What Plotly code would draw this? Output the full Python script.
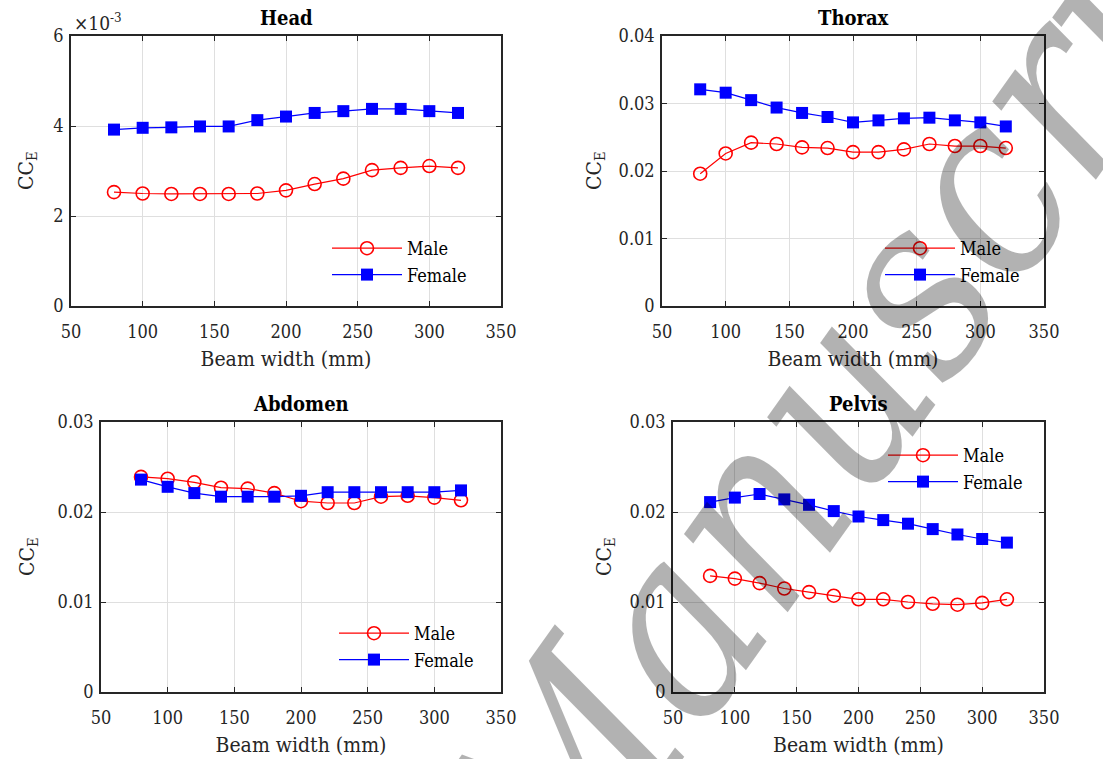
import plotly.graph_objects as go

beam_width = [80, 100, 120, 140, 160, 180, 200, 220, 240, 260, 280, 300, 320]

head_male = [0.00253, 0.00250, 0.00249, 0.00249, 0.00249, 0.00250, 0.00257, 0.00271, 0.00283, 0.00302, 0.00307, 0.00311, 0.00307]
head_female = [0.00392, 0.00396, 0.00397, 0.00399, 0.00399, 0.00413, 0.00421, 0.00429, 0.00433, 0.00438, 0.00438, 0.00433, 0.00429]

thorax_male = [0.0196, 0.0226, 0.0242, 0.0240, 0.0235, 0.0234, 0.0228, 0.0228, 0.0232, 0.0240, 0.0237, 0.0237, 0.0234]
thorax_female = [0.0321, 0.0316, 0.0305, 0.0294, 0.0286, 0.0280, 0.0272, 0.0275, 0.0278, 0.0279, 0.0275, 0.0272, 0.0266]

abdomen_male = [0.0239, 0.0237, 0.0233, 0.0227, 0.0226, 0.0221, 0.0212, 0.0210, 0.0210, 0.0217, 0.0218, 0.0216, 0.0213]
abdomen_female = [0.0236, 0.0228, 0.0221, 0.0217, 0.0217, 0.0217, 0.0218, 0.0222, 0.0222, 0.0222, 0.0222, 0.0222, 0.0224]

pelvis_male = [0.0129, 0.0126, 0.0121, 0.0115, 0.0111, 0.0107, 0.0103, 0.0103, 0.0100, 0.0098, 0.0097, 0.0099, 0.0103]
pelvis_female = [0.0211, 0.0216, 0.0220, 0.0214, 0.0208, 0.0201, 0.0195, 0.0191, 0.0187, 0.0181, 0.0175, 0.0170, 0.0166]

titles = ["Head", "Thorax", "Abdomen", "Pelvis"]
series_names = ["Male", "Female"]
x_label = "Beam width (mm)"
y_label = "CC<sub>E</sub>"

head_ticks = [0, 0.002, 0.004, 0.006]
head_ticktext = ["0", "2", "4", "6"]
thorax_ticks = [0, 0.01, 0.02, 0.03, 0.04]
ab_ticks = [0, 0.01, 0.02, 0.03]
tick_fmt = ["0", "0.01", "0.02", "0.03", "0.04"]
x_ticks = [50, 100, 150, 200, 250, 300, 350]

W, H = 1103, 759
FONT = "DejaVu Serif Condensed, DejaVu Serif"
AX = "#262626"
GRID = "#dfdfdf"

boxes = [(71, 501, 36, 306), (662, 1044, 36, 306), (101, 501, 422, 692), (673, 1044, 422, 692)]
legend_pos = [(408, 261.5), (961, 261.5), (415, 646.5), (964, 468.5)]
ytitle_x = [27, 595, 28, 605]

panels = [
    (head_male, head_female, [0, 0.006], head_ticks, head_ticktext),
    (thorax_male, thorax_female, [0, 0.04], thorax_ticks, tick_fmt[:5]),
    (abdomen_male, abdomen_female, [0, 0.03], ab_ticks, tick_fmt[:4]),
    (pelvis_male, pelvis_female, [0, 0.03], ab_ticks, tick_fmt[:4]),
]

fig = go.Figure()
layout = dict(
    width=W, height=H, margin=dict(l=0, r=0, t=0, b=0, autoexpand=False),
    paper_bgcolor="white", plot_bgcolor="white",
    font=dict(family=FONT, size=18, color=AX),
    showlegend=True,
    annotations=[],
)

ITEMW = 70
for i, (male, female, yr, tv, tt) in enumerate(panels):
    n = i + 1
    xa = "x" if n == 1 else f"x{n}"
    ya = "y" if n == 1 else f"y{n}"
    lg = "legend" if n == 1 else f"legend{n}"
    fig.add_trace(go.Scatter(
        x=beam_width, y=male, name=series_names[0], xaxis=xa, yaxis=ya, legend=lg,
        mode="lines+markers",
        line=dict(color="#ff0000", width=1.2),
        marker=dict(symbol="circle-open", size=13, color="#ff0000", line=dict(width=1.6, color="#ff0000")),
    ))
    fig.add_trace(go.Scatter(
        x=beam_width, y=female, name=series_names[1], xaxis=xa, yaxis=ya, legend=lg,
        mode="lines+markers",
        line=dict(color="#0000ff", width=1.2),
        marker=dict(symbol="square", size=12, color="#0000ff", line=dict(width=0)),
    ))
    l, r, t, b = boxes[i]
    xd = [l / W, r / W]
    yd = [1 - b / H, 1 - t / H]
    common = dict(showline=True, linecolor=AX, linewidth=1.5, mirror="ticks",
                  ticks="inside", ticklen=5, tickwidth=1.2, tickcolor=AX,
                  showgrid=True, gridcolor=GRID, gridwidth=1, zeroline=False,
                  automargin=False,
                  tickfont=dict(family=FONT, size=18, color=AX))
    layout["xaxis" if n == 1 else f"xaxis{n}"] = dict(
        domain=xd, anchor=ya, range=[50, 350], tickmode="array", tickvals=x_ticks,
        ticklabelstandoff=9,
        title=dict(text=x_label, font=dict(family=FONT, size=21, color=AX), standoff=10),
        **common)
    layout["yaxis" if n == 1 else f"yaxis{n}"] = dict(
        domain=yd, anchor=xa, range=yr, tickmode="array", tickvals=tv, ticktext=tt,
        ticklabelstandoff=2,
        **common)
    layout["annotations"].append(dict(
        text=y_label, xref="paper", yref="paper", x=ytitle_x[i] / W, y=(yd[0] + yd[1]) / 2,
        xanchor="center", yanchor="middle", textangle=-90, showarrow=False,
        font=dict(family=FONT, size=21, color=AX)))
    lx, ly = legend_pos[i]
    layout[lg] = dict(x=(lx - ITEMW - 11) / W, y=1 - ly / H, xanchor="left", yanchor="middle",
                      bgcolor="rgba(0,0,0,0)", borderwidth=0, itemwidth=ITEMW,
                      font=dict(family=FONT, size=18, color="#000000"), tracegroupgap=0)
    layout["annotations"].append(dict(
        text=f"<b>{titles[i]}</b>", xref="paper", yref="paper",
        x=(xd[0] + xd[1]) / 2, y=1 - (t - 18) / H, xanchor="center", yanchor="middle",
        showarrow=False, font=dict(family=FONT, size=20, color="#000000")))

layout["annotations"].append(dict(
    text="×10<sup>-3</sup>", xref="paper", yref="paper", x=72 / W, y=1 - 22 / H,
    xanchor="left", yanchor="middle", showarrow=False,
    font=dict(family=FONT, size=19, color=AX)))

# watermark
layout["annotations"].append(dict(
    text="Manuscript", xref="paper", yref="paper", x=876 / W, y=1 - 340 / H,
    xanchor="center", yanchor="middle", showarrow=False, textangle=-54.5,
    font=dict(family=FONT, size=250, color="rgba(0,0,0,0.3)", style="italic")))

fig.update_layout(**layout)
fig.write_html("out.html")
